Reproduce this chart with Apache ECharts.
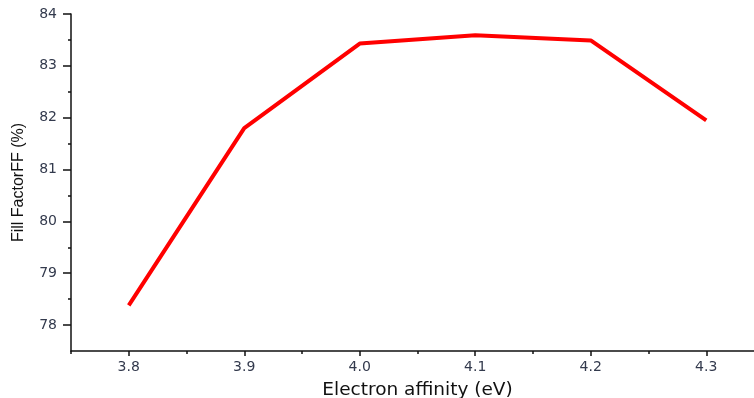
<!DOCTYPE html>
<html>
<head>
<meta charset="utf-8">
<script src="https://cdn.jsdelivr.net/npm/echarts@6/dist/echarts.min.js"></script>
<style>html,body{margin:0;padding:0;background:#fff}#c{width:754px;height:398px}</style>
</head>
<body>
<div id="c"></div>
<script>
const xValues = [3.8, 3.9, 4.0, 4.1, 4.2, 4.3];
const ffValues = [78.38, 81.8, 83.43, 83.59, 83.49, 81.95];
const yMajorTicks = [78, 79, 80, 81, 82, 83, 84];
const yMinorTicks = [78.5, 79.5, 80.5, 81.5, 82.5, 83.5];
const xMajorTicks = [3.8, 3.9, 4.0, 4.1, 4.2, 4.3];
const xMinorTicks = [3.75, 3.85, 3.95, 4.05, 4.15, 4.25, 4.35];

const chart = echarts.init(document.getElementById('c'));
const labelFont = '"DejaVu Sans", sans-serif';
const titleFont = '"DejaVu Sans", sans-serif';
const common = {
  type: 'value', splitLine: {show: false}
};
chart.setOption({
  animation: false,
  grid: {left: 71, right: -10, top: 14, bottom: 47, containLabel: false, outerBoundsMode: 'none'},
  xAxis: [
    Object.assign({}, common, {
      min: 3.75, max: 4.35, position: 'bottom',
      name: 'Electron affinity (eV)', nameLocation: 'middle', nameGap: 30,
      nameTextStyle: {fontFamily: titleFont, fontSize: 18.5, color: '#111'},
      axisLine: {lineStyle: {color: '#111', width: 1.5}},
      axisTick: {customValues: xMajorTicks, length: 5, lineStyle: {color: '#111', width: 1.5}},
      axisLabel: {customValues: xMajorTicks, margin: 9, fontFamily: labelFont, fontSize: 14, color: '#333a4d',
        formatter: v => v.toFixed(1)}
    }),
    Object.assign({}, common, {
      min: 3.75, max: 4.35, position: 'bottom',
      axisLine: {show: false},
      axisTick: {customValues: xMinorTicks, length: 3, lineStyle: {color: '#111', width: 1.5}},
      axisLabel: {show: false}
    })
  ],
  yAxis: [
    Object.assign({}, common, {
      min: 77.5, max: 84, position: 'left',
      name: 'Fill FactorFF (%)', nameLocation: 'middle', nameGap: 44,
      nameTextStyle: {fontFamily: '"Liberation Sans", Arial, sans-serif', fontSize: 16, color: '#111'},
      axisLine: {lineStyle: {color: '#111', width: 1.5}},
      axisTick: {customValues: yMajorTicks, length: 8, lineStyle: {color: '#111', width: 1.5}},
      axisLabel: {customValues: yMajorTicks, margin: 14, fontFamily: labelFont, fontSize: 14, color: '#333a4d'}
    }),
    Object.assign({}, common, {
      min: 77.5, max: 84, position: 'left',
      axisLine: {show: false},
      axisTick: {customValues: yMinorTicks, length: 3, lineStyle: {color: '#111', width: 1.5}},
      axisLabel: {show: false}
    })
  ],
  series: [{
    type: 'line',
    data: xValues.map((x, i) => [x, ffValues[i]]),
    symbol: 'none',
    lineStyle: {color: '#ff0000', width: 4},
    xAxisIndex: 0, yAxisIndex: 0
  }]
});
</script>
</body>
</html>
